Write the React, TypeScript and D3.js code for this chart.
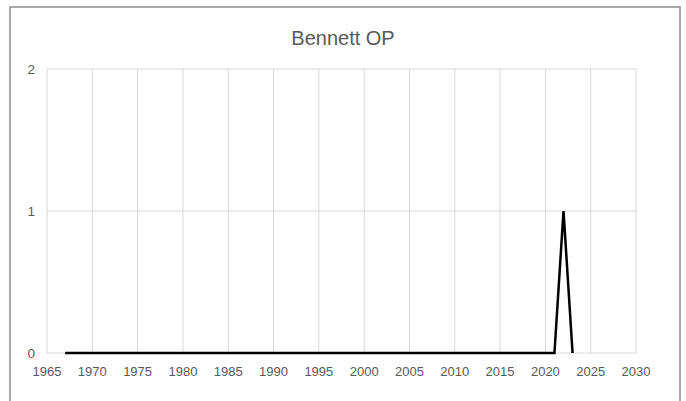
import React from "react";
import * as d3 from "d3";

const years: number[] = [
  1967, 1968, 1969, 1970, 1971, 1972, 1973, 1974, 1975, 1976, 1977, 1978, 1979, 1980,
  1981, 1982, 1983, 1984, 1985, 1986, 1987, 1988, 1989, 1990, 1991, 1992, 1993, 1994,
  1995, 1996, 1997, 1998, 1999, 2000, 2001, 2002, 2003, 2004, 2005, 2006, 2007, 2008,
  2009, 2010, 2011, 2012, 2013, 2014, 2015, 2016, 2017, 2018, 2019, 2020, 2021, 2022, 2023,
];
const values: number[] = [
  0, 0, 0, 0, 0, 0, 0, 0, 0, 0, 0, 0, 0, 0,
  0, 0, 0, 0, 0, 0, 0, 0, 0, 0, 0, 0, 0, 0,
  0, 0, 0, 0, 0, 0, 0, 0, 0, 0, 0, 0, 0, 0,
  0, 0, 0, 0, 0, 0, 0, 0, 0, 0, 0, 0, 0, 1, 0,
];
const xTicks: number[] = [1965, 1970, 1975, 1980, 1985, 1990, 1995, 2000, 2005, 2010, 2015, 2020, 2025, 2030];
const yTicks: number[] = [0, 1, 2];
const title = "Bennett OP";

export default function App() {
  const W = 686, H = 401;
  const x = d3.scaleLinear().domain([1965, 2030]).range([47, 636]);
  const y = d3.scaleLinear().domain([0, 2]).range([353, 69]);
  const data = years.map((yr, i) => [yr, values[i]] as [number, number]);
  const line = d3.line<[number, number]>().x(d => x(d[0])).y(d => y(d[1]));
  const font = "'Liberation Sans', Arial, sans-serif";
  const textColor = "#595959";
  return (
    <svg width={W} height={H} style={{ position: "absolute", left: 0, top: 0, background: "#fff" }}>
      <rect x={10} y={7} width={670} height={400} fill="#fff" stroke="#8c8c8c" strokeWidth={1.5} />
      <text x={343} y={45} textAnchor="middle" fontFamily={font} fontSize={20} fill={textColor}>{title}</text>
      {xTicks.map(t => (
        <line key={"gx" + t} x1={x(t)} x2={x(t)} y1={y(2)} y2={y(0)} stroke="#d9d9d9" strokeWidth={1} />
      ))}
      {yTicks.map(t => (
        <line key={"gy" + t} x1={x(1965)} x2={x(2030)} y1={y(t)} y2={y(t)} stroke="#d9d9d9" strokeWidth={1} />
      ))}
      {yTicks.map(t => (
        <text key={"ty" + t} x={35} y={y(t) + 5} textAnchor="end" fontFamily={font} fontSize={13.5} fill={textColor}>{t}</text>
      ))}
      {xTicks.map(t => (
        <text key={"tx" + t} x={x(t)} y={376} textAnchor="middle" fontFamily={font} fontSize={13} fill={textColor}>{t}</text>
      ))}
      <path d={line(data) || ""} fill="none" stroke="#000" strokeWidth={2.5} strokeLinejoin="miter" />
    </svg>
  );
}
